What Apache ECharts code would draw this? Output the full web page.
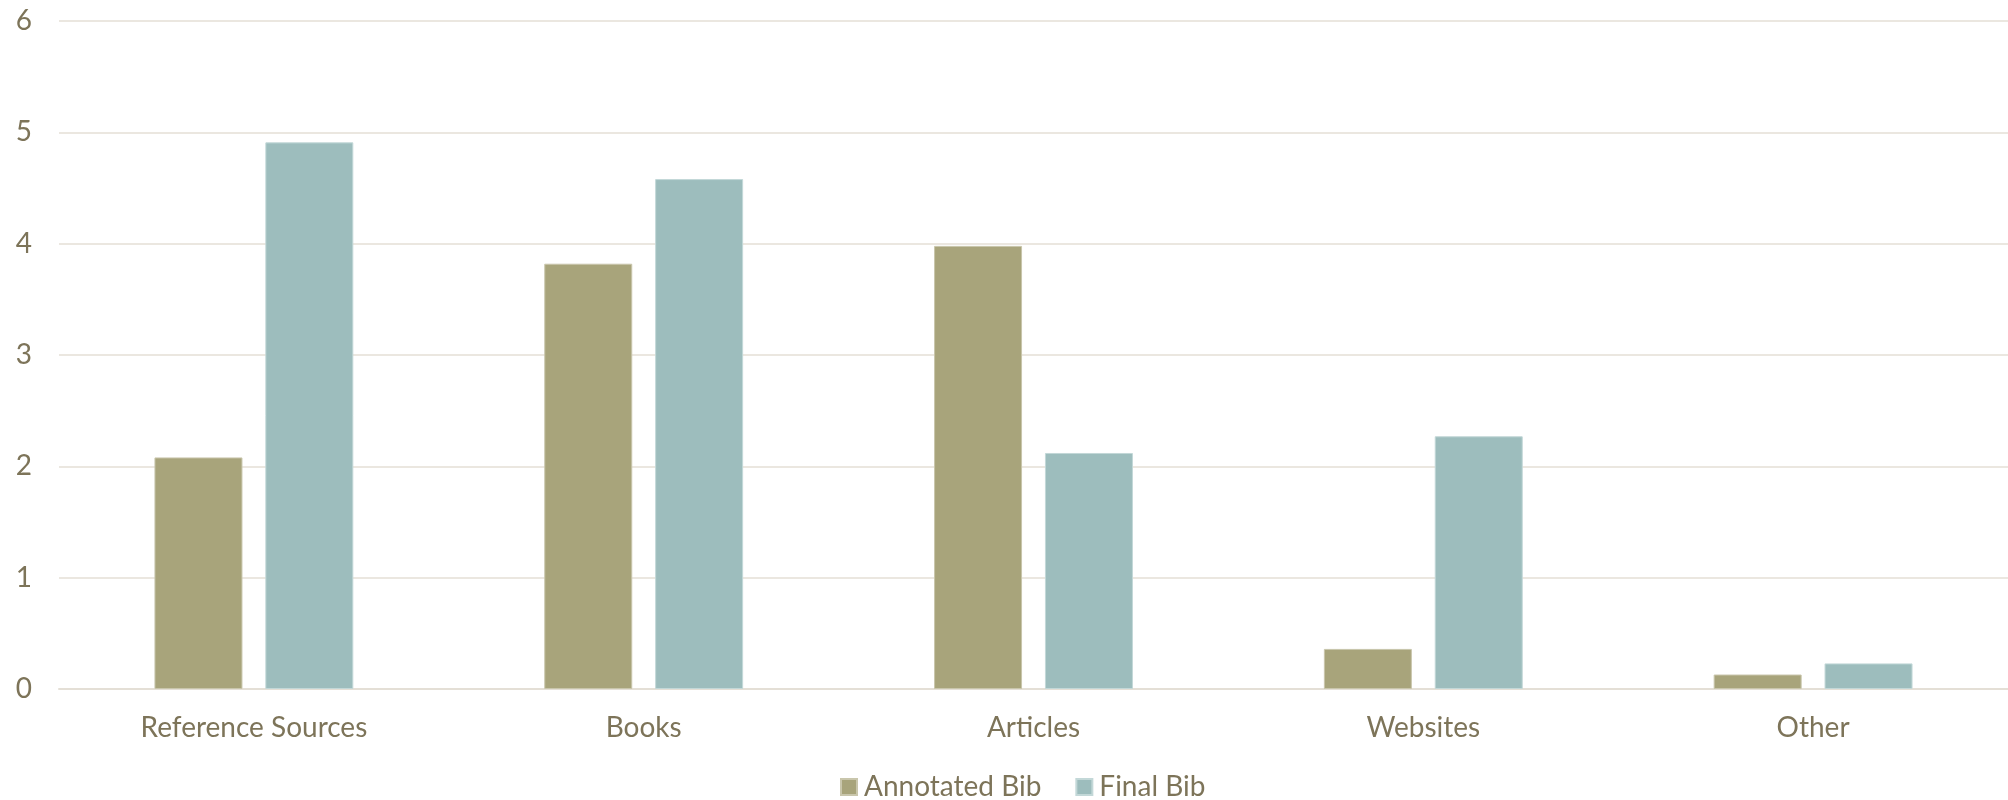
<!DOCTYPE html>
<html><head><meta charset="utf-8">
<script src="https://cdn.jsdelivr.net/npm/echarts@6/dist/echarts.min.js"></script>
<style>html,body{margin:0;padding:0;background:#fff}#c{width:2008px;height:800px}</style>
</head><body><div id="c"></div>
<script>
const categories = ['Reference Sources', 'Books', 'Articles', 'Websites', 'Other'];
const annotatedBib = [2.08, 3.82, 3.98, 0.36, 0.13];
const finalBib = [4.91, 4.58, 2.12, 2.27, 0.23];
const seriesNames = ['Annotated Bib', 'Final Bib'];

const textColor = '#7D7459';
const font = 'Lato';
const chart = echarts.init(document.getElementById('c'), null, {renderer: 'canvas'});
chart.setOption({
  animation: false,
  color: ['#A8A47B', '#9DBDBD'],
  grid: {left: 59, right: 0, top: 21, bottom: 111, containLabel: false},
  legend: {
    bottom: -6, left: 835,
    itemWidth: 16, itemHeight: 16, itemGap: 34,
    icon: 'rect',
    textStyle: {color: textColor, fontSize: 28, fontFamily: font, padding: [0, 0, 0, 2]},
    data: seriesNames
  },
  xAxis: {
    type: 'category', data: categories,
    axisLine: {show: true, lineStyle: {color: '#E4DFD6', width: 2}},
    axisTick: {show: false},
    axisLabel: {color: textColor, fontSize: 28, fontFamily: font, margin: 25}
  },
  yAxis: {
    type: 'value', min: 0, max: 6, interval: 1,
    axisLine: {show: false}, axisTick: {show: false},
    splitLine: {lineStyle: {color: '#E4DFD6', width: 1.5}},
    axisLabel: {color: textColor, fontSize: 28, fontFamily: font, margin: 27}
  },
  series: [
    {name: seriesNames[0], type: 'bar', data: annotatedBib, barWidth: 88, barGap: '26%',
     itemStyle: {borderColor: '#C9C6AC', borderWidth: 1}},
    {name: seriesNames[1], type: 'bar', data: finalBib, barWidth: 88,
     itemStyle: {borderColor: '#C3D8D8', borderWidth: 1}}
  ]
});
</script></body></html>
